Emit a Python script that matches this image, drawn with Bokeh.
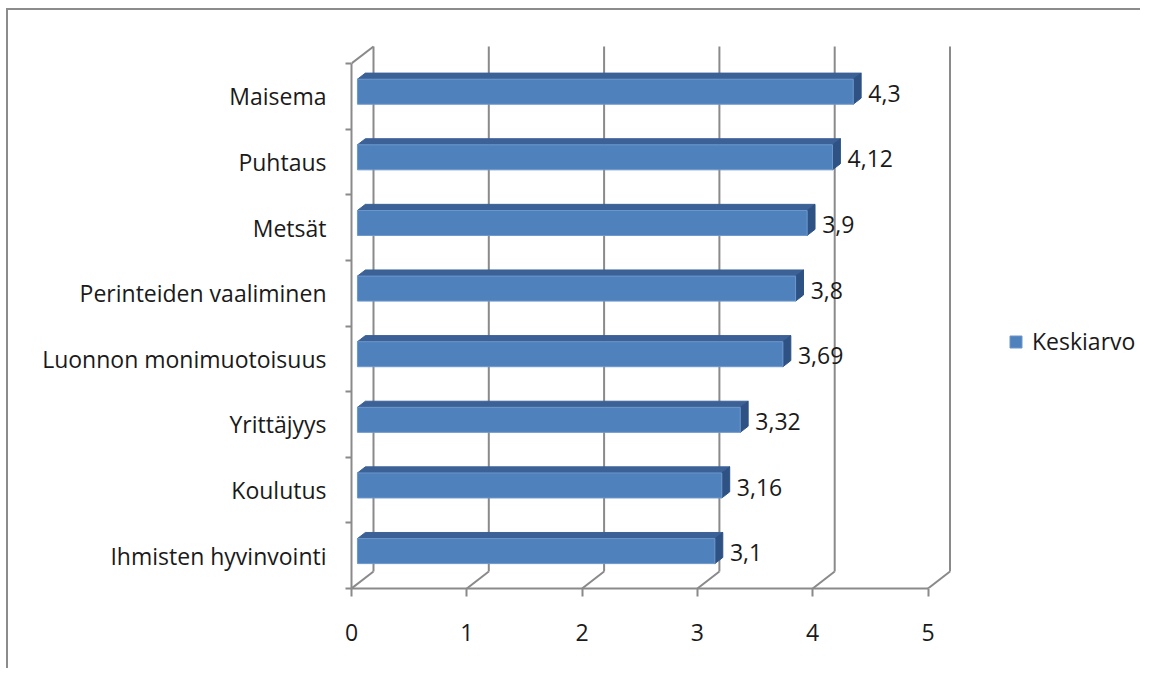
from bokeh.plotting import figure
from bokeh.models import (Range1d, FixedTicker, Legend, LegendItem, ColumnDataSource)
from bokeh.core.properties import value
from bokeh.embed import file_html
from bokeh.resources import INLINE

# ---- data (bottom to top) ----
categories = ["Ihmisten hyvinvointi", "Koulutus", "Yrittäjyys", "Luonnon monimuotoisuus",
              "Perinteiden vaaliminen", "Metsät", "Puhtaus", "Maisema"]
values = [3.1, 3.16, 3.32, 3.69, 3.8, 3.9, 4.12, 4.3]
value_labels = ["3,1", "3,16", "3,32", "3,69", "3,8", "3,9", "4,12", "4,3"]
x_ticks = [0, 1, 2, 3, 4, 5]
series_name = "Keskiarvo"

# ---- layout / style ----
W, H = 1134, 660
XPX, YPX = 115.3, 65.625          # px per data unit
MB_LEFT, MB_TOP, MB_BOTTOM, MB_RIGHT = 343, 30, 82, 0
x_end = (W - MB_LEFT - MB_RIGHT) / XPX
y_end = (H - MB_TOP - MB_BOTTOM) / YPX
DX, DY = 22 / XPX, 17 / YPX        # 3-D depth offset in data units
D0, D1 = 0.27, 0.63                # bar depth span (fraction of depth)
HH = 12.5 / YPX                    # half bar height
GRID = "#8a8a8a"
FRONT, TOP, SIDE = "#4f81bd", "#3b6196", "#2e5284"
FONT = "Open Sans"
FS = "23px"
n = len(categories)
xmax = x_ticks[-1]

p = figure(width=W, height=H, output_backend="svg", toolbar_location=None,
           x_range=Range1d(0, x_end), y_range=Range1d(0, y_end),
           min_border_left=MB_LEFT, min_border_top=MB_TOP,
           min_border_bottom=MB_BOTTOM, min_border_right=MB_RIGHT)
p.margin = (8, 0, 0, 6)
p.outline_line_color = None
p.grid.visible = False
p.background_fill_color = "white"
p.border_fill_color = "white"
p.styles = {"border-left": "2px solid #8c8c8c", "border-top": "2px solid #8c8c8c"}

# back wall gridlines
p.segment(x0=[k + DX for k in x_ticks], y0=[DY] * len(x_ticks),
          x1=[k + DX for k in x_ticks], y1=[n + DY] * len(x_ticks),
          line_color=GRID, line_width=2)
# floor diagonals
p.segment(x0=x_ticks, y0=[0] * len(x_ticks),
          x1=[k + DX for k in x_ticks], y1=[DY] * len(x_ticks),
          line_color=GRID, line_width=2)
# left wall top diagonal
p.segment(x0=[0], y0=[n], x1=[DX], y1=[n + DY], line_color=GRID, line_width=2)

centers = [i + 0.5 for i in range(n)]

top_xs, top_ys, side_xs, side_ys = [], [], [], []
for c, v in zip(centers, values):
    yt = c + HH
    top_xs.append([D0 * DX, v + D0 * DX, v + D1 * DX, D1 * DX])
    top_ys.append([yt + D0 * DY, yt + D0 * DY, yt + D1 * DY, yt + D1 * DY])
    yb = c - HH
    side_xs.append([v + D0 * DX, v + D1 * DX, v + D1 * DX, v + D0 * DX])
    side_ys.append([yb + D0 * DY, yb + D1 * DY, yt + D1 * DY, yt + D0 * DY])
p.patches(top_xs, top_ys, fill_color=TOP, line_color=TOP, line_width=1)
p.patches(side_xs, side_ys, fill_color=SIDE, line_color=SIDE, line_width=1)

src = ColumnDataSource(dict(
    y=[c + D0 * DY for c in centers],
    left=[D0 * DX] * n,
    right=[v + D0 * DX for v in values],
    v=values, c=centers, lab=value_labels))
front = p.hbar(y="y", left="left", right="right", height=2 * HH, source=src,
               fill_color=FRONT, line_color="#6d98cc", line_width=1)

# data labels
p.text(x="v", y="c", text="lab", source=src, x_offset=21, y_offset=-3,
       text_font=value(FONT), text_font_size=FS, text_color="#1a1a1a",
       text_baseline="middle", text_align="left")

# x axis
xa = p.xaxis[0]
xa.ticker = FixedTicker(ticks=x_ticks)
xa.bounds = (0, xmax)
xa.axis_line_color = GRID
xa.axis_line_width = 2
xa.major_tick_line_color = GRID
xa.major_tick_line_width = 2
xa.major_tick_out = 8
xa.major_tick_in = 0
xa.minor_tick_line_color = None
xa.major_label_standoff = 27
xa.major_label_text_font = FONT
xa.major_label_text_font_size = FS
xa.major_label_text_color = "#1a1a1a"

# y axis (categories)
ya = p.yaxis[0]
ya.ticker = FixedTicker(ticks=centers, minor_ticks=list(range(n + 1)))
ya.bounds = (0, n)
ya.major_label_overrides = {c: lab for c, lab in zip(centers, categories)}
ya.axis_line_color = GRID
ya.axis_line_width = 2
ya.major_tick_line_color = None
ya.major_tick_out = 0
ya.major_tick_in = 0
ya.minor_tick_line_color = GRID
ya.minor_tick_line_width = 2
ya.minor_tick_out = 6
ya.minor_tick_in = 0
ya.major_label_standoff = 19
ya.major_label_text_font = FONT
ya.major_label_text_font_size = FS
ya.major_label_text_color = "#1a1a1a"

legend = Legend(items=[LegendItem(label=series_name, renderers=[front])],
                location=(657, 231), glyph_width=15, glyph_height=15,
                label_standoff=9, padding=0, margin=0, spacing=0,
                border_line_alpha=0, background_fill_alpha=0,
                label_text_font=FONT, label_text_font_size=FS,
                label_text_color="#1a1a1a")
p.add_layout(legend)

open("out.html", "w").write(file_html(p, INLINE))
